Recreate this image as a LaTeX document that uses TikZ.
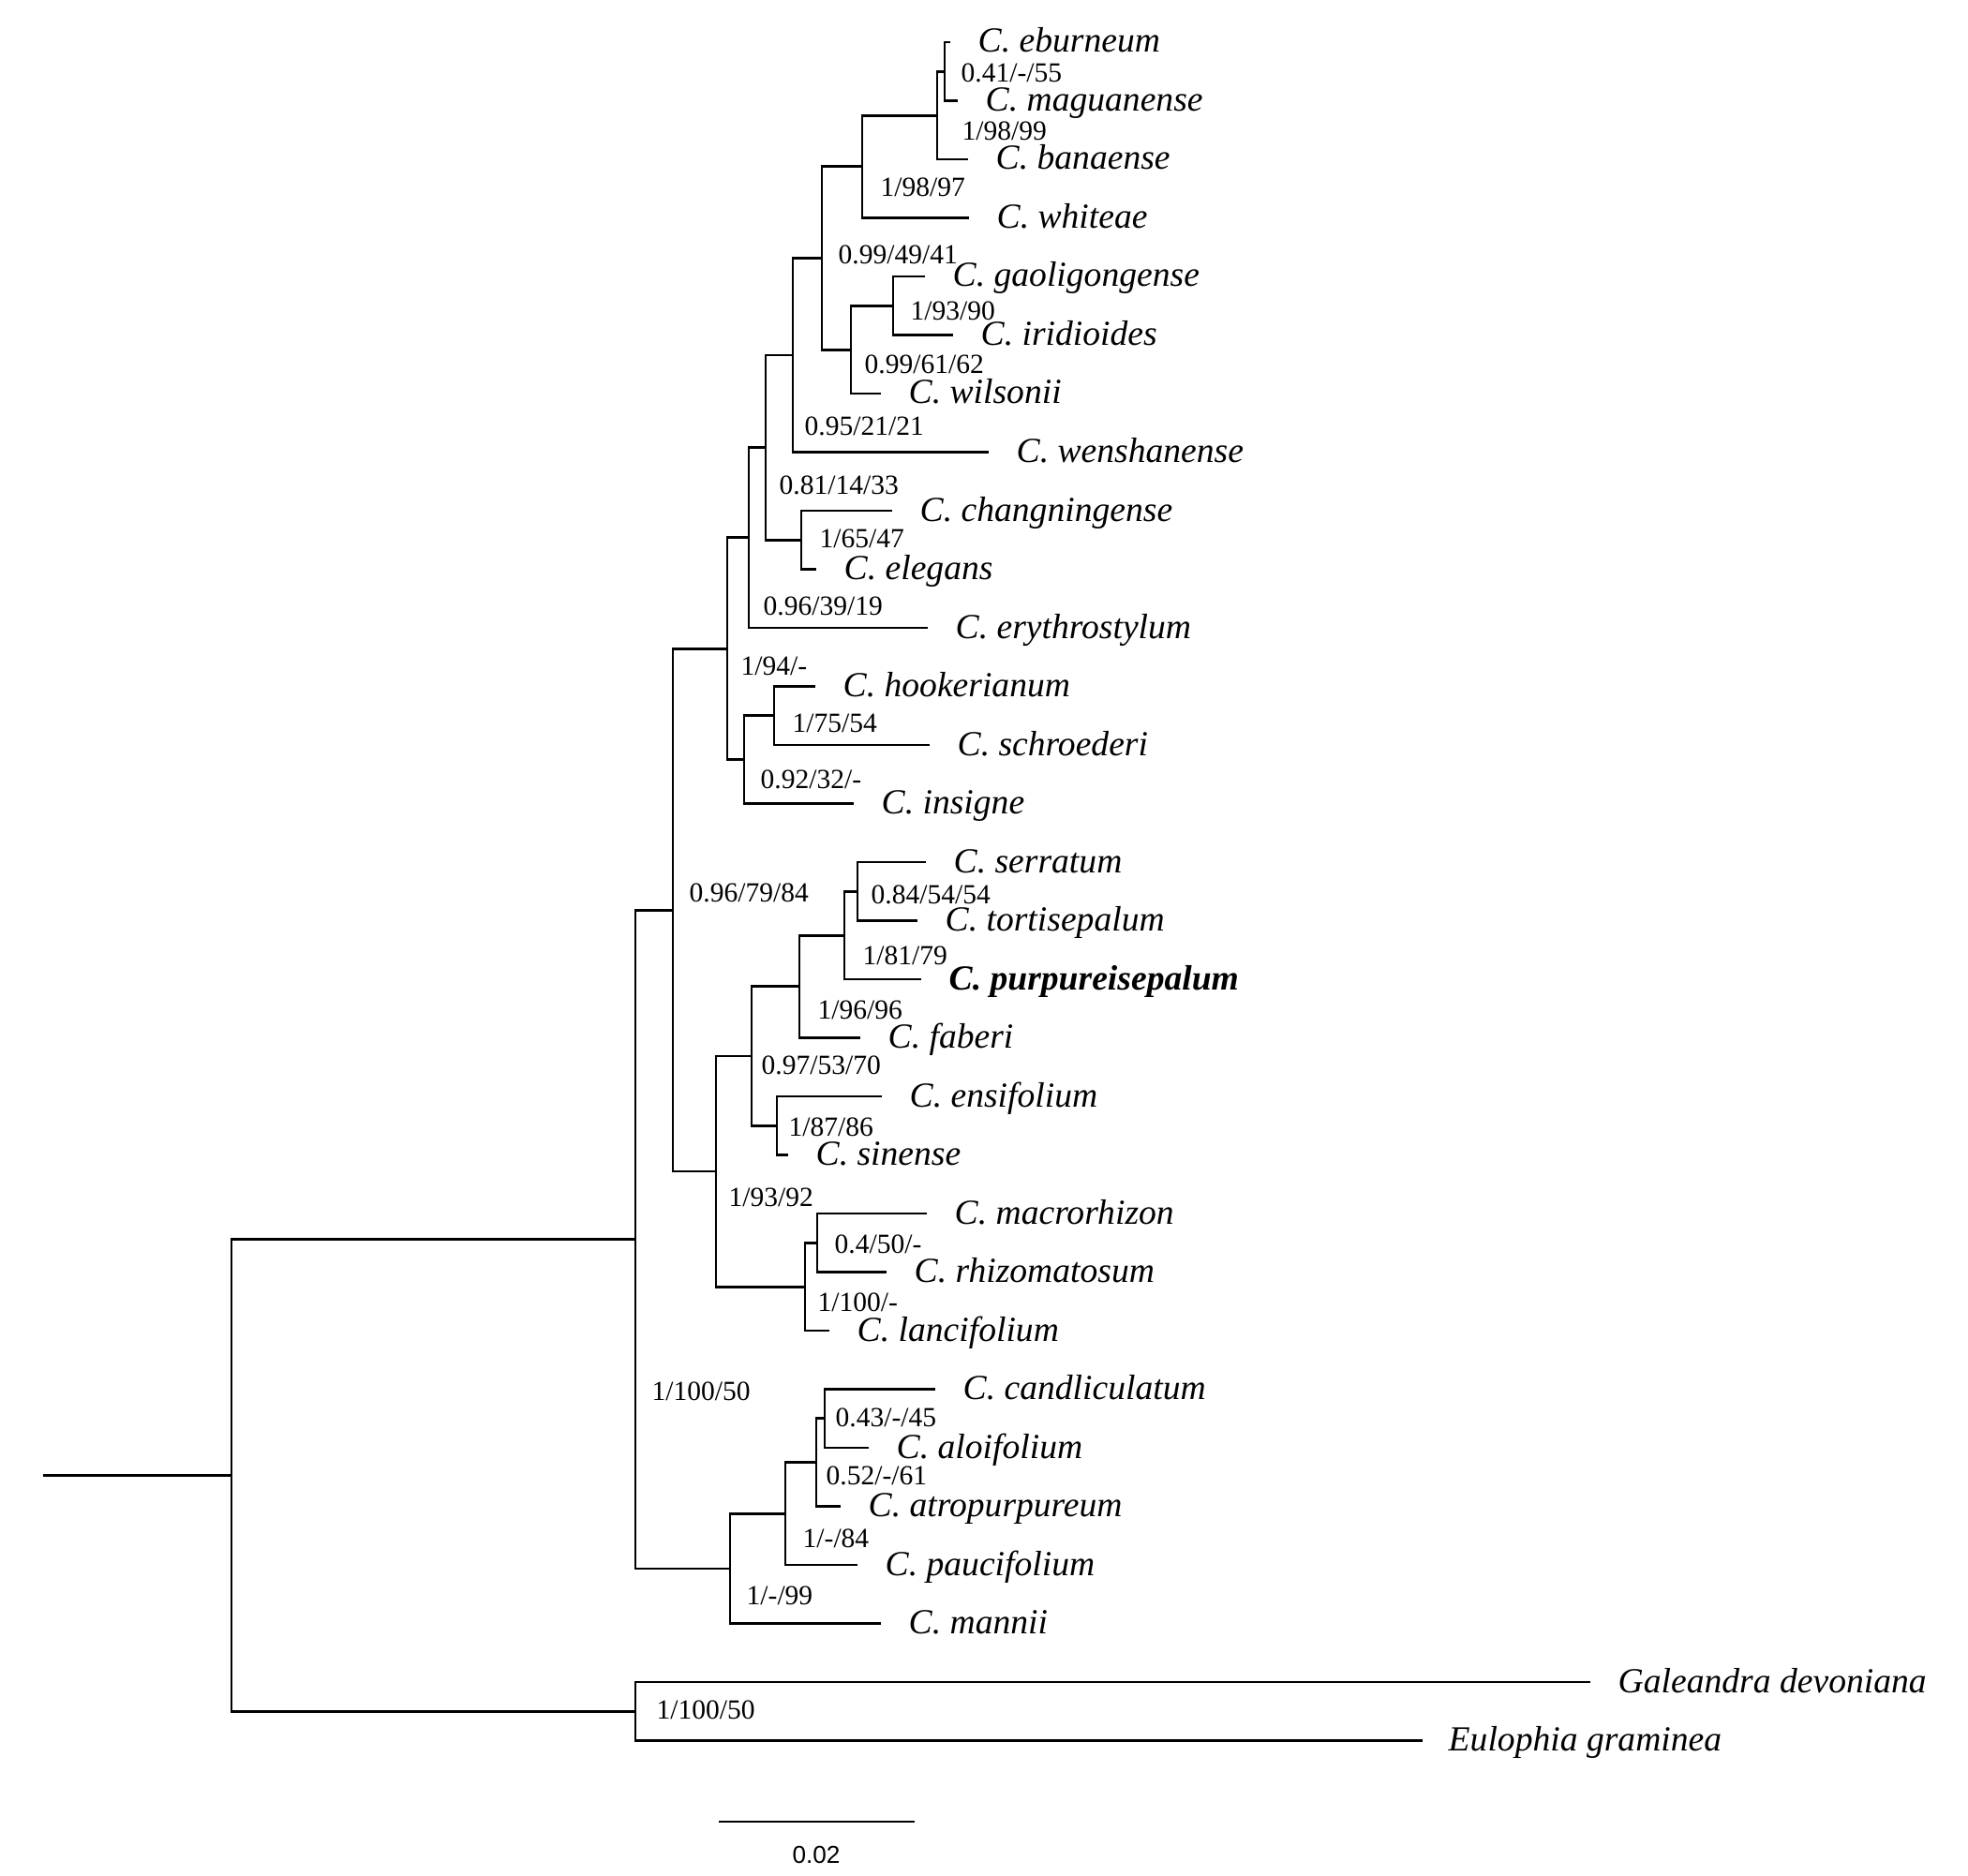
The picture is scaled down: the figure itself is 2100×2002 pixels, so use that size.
\documentclass[tikz,border=0pt]{standalone}
\usepackage{fontspec}
\setmainfont{Liberation Serif}
\newfontfamily\barfont{Liberation Sans}
\begin{document}
\begin{tikzpicture}[x=0.1mm,y=-0.1mm,
  br/.style={line width=0.8pt},
  taxon/.style={anchor=base west, inner sep=0pt, font=\fontsize{10.7}{12}\selectfont\itshape},
  sup/.style={anchor=west, inner sep=0pt, font=\fontsize{8.4}{10}\selectfont},
  barlbl/.style={inner sep=0pt, font=\barfont\fontsize{7.45}{9}\selectfont}]
\useasboundingbox (0,0) rectangle (2100,2002);
% tips
\coordinate (t01) at (1014,45);
\coordinate (t02) at (1022,107.5);
\coordinate (t03) at (1033,170);
\coordinate (t04) at (1034,232.5);
\coordinate (t05) at (987,295);
\coordinate (t06) at (1017,357.5);
\coordinate (t07) at (940,420);
\coordinate (t08) at (1055,482.5);
\coordinate (t09) at (952,545);
\coordinate (t10) at (871,607.5);
\coordinate (t11) at (990,670);
\coordinate (t12) at (870,732.5);
\coordinate (t13) at (992,795);
\coordinate (t14) at (911,857.5);
\coordinate (t15) at (988,920);
\coordinate (t16) at (979,982.5);
\coordinate (t17) at (983,1045);
\coordinate (t18) at (918,1107.5);
\coordinate (t19) at (941,1170);
\coordinate (t20) at (841,1232.5);
\coordinate (t21) at (989,1295);
\coordinate (t22) at (946,1357.5);
\coordinate (t23) at (885,1420);
\coordinate (t24) at (998,1482.5);
\coordinate (t25) at (927,1545);
\coordinate (t26) at (897,1607.5);
\coordinate (t27) at (915,1670);
\coordinate (t28) at (940,1732.5);
\coordinate (t29) at (1697,1795);
\coordinate (t30) at (1518,1857.5);
% internal nodes
\coordinate (a1) at (1008,76.25);
\coordinate (a2) at (1000,123.1);
\coordinate (a3) at (920,177.8);
\coordinate (a4) at (953,326.25);
\coordinate (a5) at (908,373.1);
\coordinate (a6) at (877,275.5);
\coordinate (a7) at (846,379);
\coordinate (a8) at (855,576.25);
\coordinate (a9) at (817,477.6);
\coordinate (a10) at (799,573.8);
\coordinate (a11) at (826,763.75);
\coordinate (a12) at (794,810.6);
\coordinate (a13) at (776,692.2);
\coordinate (a14) at (915,951.25);
\coordinate (a15) at (901,998.1);
\coordinate (a16) at (853,1052.8);
\coordinate (a17) at (829,1201.25);
\coordinate (a18) at (802,1127);
\coordinate (a19) at (872,1326.25);
\coordinate (a20) at (859,1373.1);
\coordinate (a21) at (764,1250);
\coordinate (a22) at (718,971.1);
\coordinate (a23) at (880,1513.75);
\coordinate (a24) at (871,1560.6);
\coordinate (a25) at (838,1615.3);
\coordinate (a26) at (779,1673.9);
\coordinate (a27) at (678,1322.5);
\coordinate (a28) at (678,1826.25);
\coordinate (a29) at (247,1574.4);
\coordinate (root) at (46,1574.4);
% branches
\foreach \p/\c in {a1/t01,a1/t02,a2/a1,a2/t03,a3/a2,a3/t04,a4/t05,a4/t06,a5/a4,a5/t07,
  a6/a3,a6/a5,a7/a6,a7/t08,a8/t09,a8/t10,a9/a7,a9/a8,a10/a9,a10/t11,a11/t12,a11/t13,
  a12/a11,a12/t14,a13/a10,a13/a12,a14/t15,a14/t16,a15/a14,a15/t17,a16/a15,a16/t18,
  a17/t19,a17/t20,a18/a16,a18/a17,a19/t21,a19/t22,a20/a19,a20/t23,a21/a18,a21/a20,
  a22/a13,a22/a21,a23/t24,a23/t25,a24/a23,a24/t26,a25/a24,a25/t27,a26/a25,a26/t28,
  a27/a22,a27/a26,a28/t29,a28/t30,a29/a27,a29/a28}
  \draw[br] (\p) |- (\c);
\draw[br] (root) -- (a29);
% taxon labels
\node[taxon] (l01) at ([shift={(29,11)}]t01) {C. eburneum};
\node[taxon] (l02) at ([shift={(29,11)}]t02) {C. maguanense};
\node[taxon] (l03) at ([shift={(29,11)}]t03) {C. banaense};
\node[taxon] (l04) at ([shift={(29,11)}]t04) {C. whiteae};
\node[taxon] (l05) at ([shift={(29,11)}]t05) {C. gaoligongense};
\node[taxon] (l06) at ([shift={(29,11)}]t06) {C. iridioides};
\node[taxon] (l07) at ([shift={(29,11)}]t07) {C. wilsonii};
\node[taxon] (l08) at ([shift={(29,11)}]t08) {C. wenshanense};
\node[taxon] (l09) at ([shift={(29,11)}]t09) {C. changningense};
\node[taxon] (l10) at ([shift={(29,11)}]t10) {C. elegans};
\node[taxon] (l11) at ([shift={(29,11)}]t11) {C. erythrostylum};
\node[taxon] (l12) at ([shift={(29,11)}]t12) {C. hookerianum};
\node[taxon] (l13) at ([shift={(29,11)}]t13) {C. schroederi};
\node[taxon] (l14) at ([shift={(29,11)}]t14) {C. insigne};
\node[taxon] (l15) at ([shift={(29,11)}]t15) {C. serratum};
\node[taxon] (l16) at ([shift={(29,11)}]t16) {C. tortisepalum};
\node[taxon,font=\fontsize{10.7}{12}\selectfont\bfseries\itshape] (l17) at ([shift={(29,11)}]t17) {C. purpureisepalum};
\node[taxon] (l18) at ([shift={(29,11)}]t18) {C. faberi};
\node[taxon] (l19) at ([shift={(29,11)}]t19) {C. ensifolium};
\node[taxon] (l20) at ([shift={(29,11)}]t20) {C. sinense};
\node[taxon] (l21) at ([shift={(29,11)}]t21) {C. macrorhizon};
\node[taxon] (l22) at ([shift={(29,11)}]t22) {C. rhizomatosum};
\node[taxon] (l23) at ([shift={(29,11)}]t23) {C. lancifolium};
\node[taxon] (l24) at ([shift={(29,11)}]t24) {C. candliculatum};
\node[taxon] (l25) at ([shift={(29,11)}]t25) {C. aloifolium};
\node[taxon] (l26) at ([shift={(29,11)}]t26) {C. atropurpureum};
\node[taxon] (l27) at ([shift={(29,11)}]t27) {C. paucifolium};
\node[taxon] (l28) at ([shift={(29,11)}]t28) {C. mannii};
\node[taxon] (l29) at ([shift={(29,11)}]t29) {Galeandra devoniana};
\node[taxon] (l30) at ([shift={(27,11)}]t30) {Eulophia graminea};
% support values
\node[sup] (s01) at (1025,78) {0.41/-/55};
\node[sup] (s02) at (1026,140) {1/98/99};
\node[sup] (s03) at (939,200) {1/98/97};
\node[sup] (s04) at (894,272) {0.99/49/41};
\node[sup] (s05) at (971,332) {1/93/90};
\node[sup] (s06) at (922,389) {0.99/61/62};
\node[sup] (s07) at (858,455) {0.95/21/21};
\node[sup] (s08) at (831,518) {0.81/14/33};
\node[sup] (s09) at (874,575) {1/65/47};
\node[sup] (s10) at (814,647) {0.96/39/19};
\node[sup] (s11) at (790,711) {1/94/-};
\node[sup] (s12) at (845,772) {1/75/54};
\node[sup] (s13) at (811,832) {0.92/32/-};
\node[sup] (s14) at (735,953) {0.96/79/84};
\node[sup] (s15) at (929,955) {0.84/54/54};
\node[sup] (s16) at (920,1020) {1/81/79};
\node[sup] (s17) at (872,1078) {1/96/96};
\node[sup] (s18) at (812,1137) {0.97/53/70};
\node[sup] (s19) at (841,1203) {1/87/86};
\node[sup] (s20) at (777,1278) {1/93/92};
\node[sup] (s21) at (890,1328) {0.4/50/-};
\node[sup] (s22) at (872,1390) {1/100/-};
\node[sup] (s23) at (695,1485) {1/100/50};
\node[sup] (s24) at (891,1513) {0.43/-/45};
\node[sup] (s25) at (881,1575) {0.52/-/61};
\node[sup] (s26) at (856,1642) {1/-/84};
\node[sup] (s27) at (796,1703) {1/-/99};
\node[sup] (s28) at (700,1825) {1/100/50};
% scale bar
\coordinate (sb1) at (767,1944);
\coordinate (sb2) at (976,1944);
\draw[br] (sb1) -- (sb2);
\node[barlbl] (sbl) at (871,1979) {0.02};
\end{tikzpicture}
\end{document}
